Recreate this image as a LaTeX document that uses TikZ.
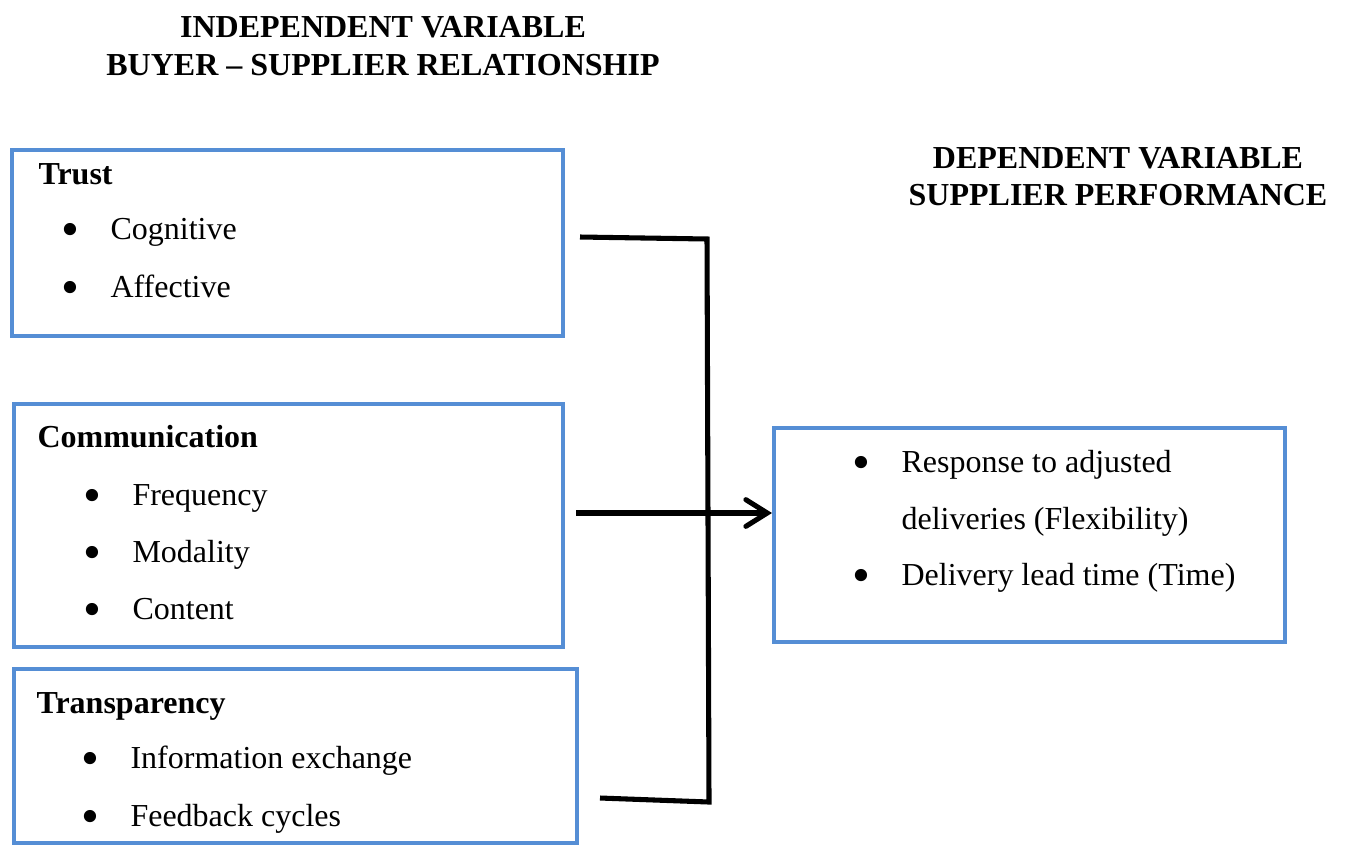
\documentclass[tikz,border=0pt]{standalone}
\usepackage{fontspec}
\setmainfont{Liberation Serif}
\usetikzlibrary{positioning}
\usetikzlibrary{fit}
\usetikzlibrary{arrows.meta}
\definecolor{boxblue}{RGB}{85,142,213}

\newcommand{\bul}{\makebox[17.25pt][l]{\hspace{-1pt}\raisebox{-0.5ex}{\scalebox{1.6}{•}}}}

\begin{document}
\begin{tikzpicture}[x=0.375pt,y=-0.375pt,
  varbox/.style={draw=boxblue, line width=1.5pt, inner sep=0pt},
  title/.style={font=\fontsize{12}{14.4}\selectfont\bfseries, align=center, inner sep=0pt},
  head/.style={font=\fontsize{12}{14.4}\selectfont\bfseries, anchor=base west, inner sep=0pt},
  entry/.style={font=\fontsize{12}{14.4}\selectfont, anchor=base west, inner sep=0pt},
  link/.style={line width=1.9pt, line join=miter}]

\useasboundingbox (0,0) rectangle (1346,844);

%---------------------------------------
% Titles
%---------------------------------------
\node[title, anchor=base] (indep1) at (383,37) {INDEPENDENT VARIABLE};
\node[title, anchor=base] (indep2) at (383,75) {BUYER -- SUPPLIER RELATIONSHIP};
\node[title, anchor=base] (dep1) at (1118,168) {DEPENDENT VARIABLE};
\node[title, anchor=base] (dep2) at (1118,205) {SUPPLIER PERFORMANCE};

%---------------------------------------
% Boxes
%---------------------------------------
\node[varbox, fit={(12,150) (563,336)}] (trust) {};
\node[varbox, fit={(14,404) (563,647)}] (comm) {};
\node[varbox, fit={(14,669) (577,843)}] (transp) {};
\node[varbox, fit={(774,428) (1285,642)}] (perf) {};

% Trust
\node[head] (trusthead) at (38,184) {Trust};
\node[entry] (cogn) at (64,239) {\bul Cognitive};
\node[entry] (affe) at (64,297) {\bul Affective};

% Communication
\node[head] (commhead) at (37,447) {Communication};
\node[entry] (freq) at (86,505) {\bul Frequency};
\node[entry] (moda) at (86,562) {\bul Modality};
\node[entry] (cont) at (86,619) {\bul Content};

% Transparency
\node[head] (transphead) at (36,713) {Transparency};
\node[entry] (info) at (84,768) {\bul Information exchange};
\node[entry] (feed) at (84,826) {\bul Feedback cycles};

% Supplier performance
\node[entry] (resp) at (855,472) {\bul Response to adjusted};
\node[entry] (deli) at (855,529) {\hspace{17.25pt}deliveries (Flexibility)};
\node[entry] (lead) at (855,585) {\bul Delivery lead time (Time)};

%---------------------------------------
% Connectors
%---------------------------------------
\coordinate (c1) at (580,237);
\coordinate (j1) at (707,239);
\coordinate (j3) at (709,802);
\coordinate (c3) at (600,798);
\coordinate (c2) at (576,513);

\draw[link] (c1) -- (j1) -- (j3) -- (c3);
\draw[link, -{Straight Barb[length=8pt, width=10pt, line cap=round]}] (c2) -- (c2 -| perf.west);

\end{tikzpicture}
\end{document}
